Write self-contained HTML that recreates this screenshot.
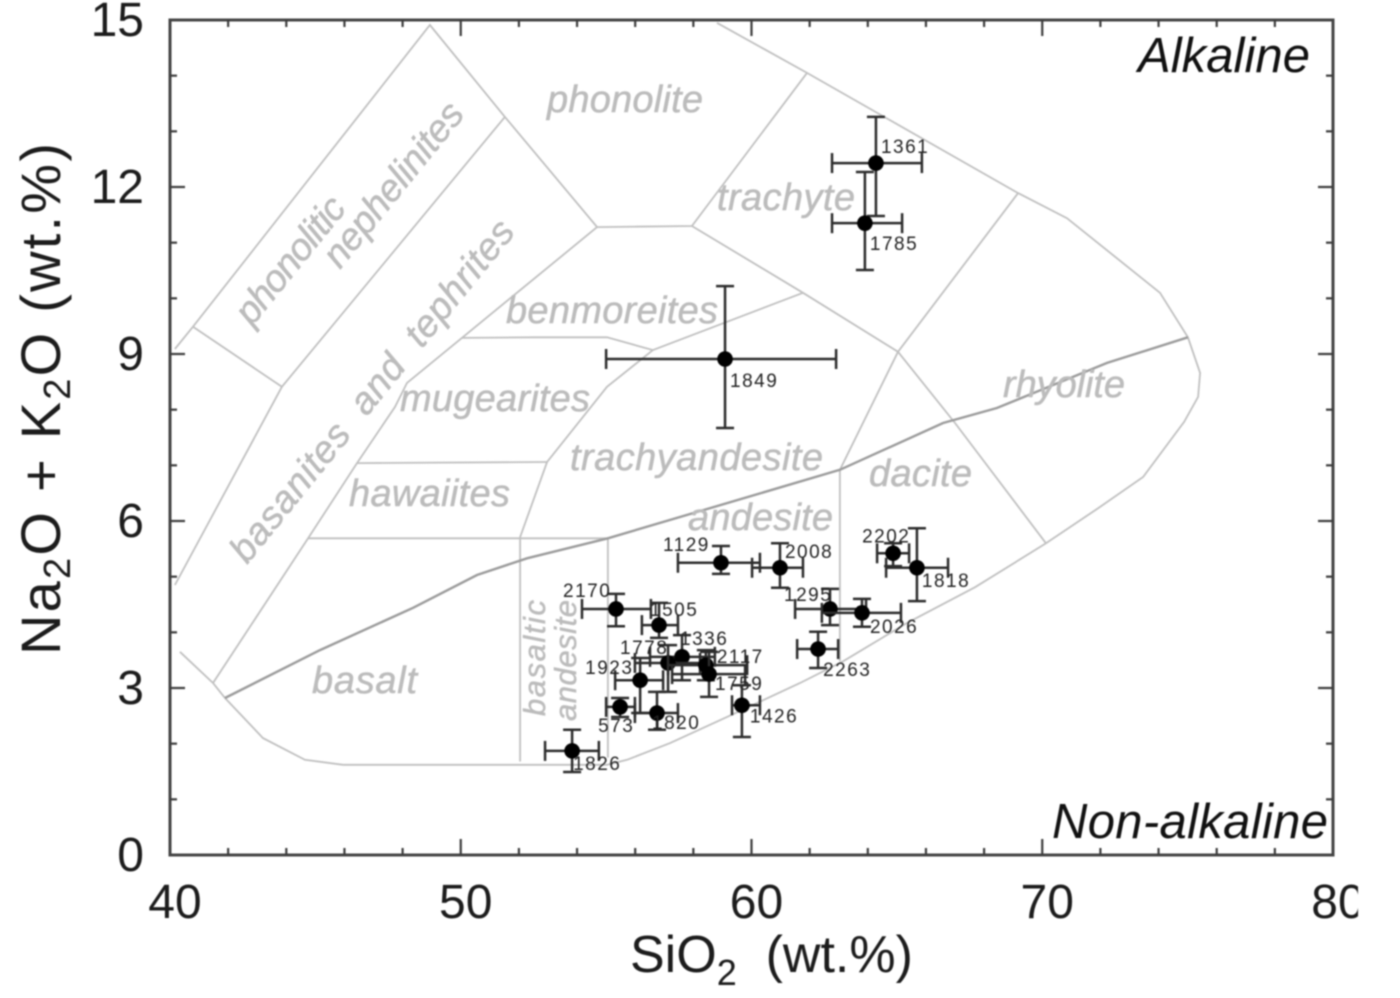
<!DOCTYPE html>
<html lang="en">
<head>
<meta charset="utf-8">
<title>TAS diagram</title>
<style>
html,body{margin:0;padding:0;background:#fff;width:1400px;height:998px;overflow:hidden}
svg{display:block;filter:blur(0.9px)}
text{font-family:"Liberation Sans",Arial,sans-serif}
.tick-label{font-size:48px;fill:#1c1c1c}
.axis-title{font-size:52px;fill:#1c1c1c}
.zone{font-size:38px;font-style:italic;fill:#bcbcbc;stroke:#bcbcbc;stroke-width:.5}
.corner{font-size:49px;font-style:italic;fill:#111}
.sample-label{font-size:19px;fill:#222;letter-spacing:1.5px}
</style>
</head>
<body>
<svg id="chart" xmlns="http://www.w3.org/2000/svg" width="1400" height="998" viewBox="0 0 1400 998">
<defs><clipPath id="page-clip"><rect x="0" y="0" width="1358" height="998"/></clipPath></defs>
<g id="boundaries"></g>
<g>
<text class="zone" x="547" y="112" textLength="156">phonolite</text>
<text class="zone" x="717" y="210" textLength="138">trachyte</text>
<text class="zone" x="506" y="323" textLength="212">benmoreites</text>
<text class="zone" x="400" y="411" textLength="190">mugearites</text>
<text class="zone" x="349" y="506" textLength="161">hawaiites</text>
<text class="zone" x="570" y="470" textLength="253">trachyandesite</text>
<text class="zone" x="688" y="530" textLength="145">andesite</text>
<text class="zone" x="869" y="486" textLength="103">dacite</text>
<text class="zone" x="1003" y="397" textLength="122">rhyolite</text>
<text class="zone" x="312" y="693" textLength="105">basalt</text>
<text class="zone" transform="translate(252,327) rotate(-51)" textLength="152">phonolitic</text>
<text class="zone" transform="translate(340,270) rotate(-51)" textLength="200">nephelinites</text>
<text class="zone" transform="translate(247,565) rotate(-51)" textLength="428">basanites&#160;&#160;and&#160;&#160;tephrites</text>
<text class="zone" style="font-size:31px" transform="translate(545,716) rotate(-90)" textLength="116">basaltic</text>
<text class="zone" style="font-size:31px" transform="translate(576,721) rotate(-90)" textLength="121">andesite</text>
</g>
<g id="series"></g>
<rect x="170" y="20" width="1163" height="835" fill="none" stroke="#444" stroke-width="3"/>
<g id="ticks"></g>
<g id="tick-labels" clip-path="url(#page-clip)"></g>
<text class="corner" x="1138" y="72" textLength="172">Alkaline</text>
<text class="corner" x="1052" y="838" textLength="276">Non-alkaline</text>
<text class="axis-title" style="font-size:56px" text-anchor="middle" transform="translate(60,399) rotate(-90)" textLength="512">Na<tspan font-size="38" dy="10">2</tspan><tspan dy="-10">O + K</tspan><tspan font-size="38" dy="10">2</tspan><tspan dy="-10">O (wt.%)</tspan></text>
<text class="axis-title" x="630" y="972">SiO<tspan font-size="36" dy="13">2</tspan><tspan dy="-13">&#160;&#160;(wt.%)</tspan></text>
</svg>
<script>
const xTicks = [40, 50, 60, 70, 80];
const yTicks = [0, 3, 6, 9, 12, 15];
const xMinorStep = 2;
const yMinorStep = 1;

const sampleIds = ['1361','1785','1849','1129','2008','2170','1505','1336','1778','1923','2117','1759','573','1820','1426','1826','2202','1818','1295','2026','2263'];
const sio2Values = [64.28,63.90,59.09,58.95,60.98,55.34,56.82,57.61,57.13,56.17,58.43,58.54,55.48,56.75,59.67,53.83,64.87,65.69,62.70,63.80,62.29];
const totalValues = [12.43,11.35,8.91,5.25,5.16,4.42,4.13,3.56,3.45,3.14,3.41,3.25,2.66,2.55,2.69,1.87,5.42,5.16,4.42,4.35,3.70];
const sio2Low = [62.77,62.77,55.00,57.47,60.02,54.17,56.23,56.51,55.99,55.31,57.13,57.27,55.00,55.99,59.33,52.90,64.32,64.63,61.50,62.42,61.57];
const sio2High = [65.86,65.18,62.91,60.29,61.77,56.54,57.47,58.74,58.23,56.96,59.85,59.78,55.99,57.47,60.29,54.75,65.42,66.76,63.94,65.14,62.98];
const totalLow = [11.48,10.51,7.67,5.05,4.80,4.11,3.90,3.14,2.93,2.55,3.14,2.84,2.48,2.25,2.12,1.49,5.19,4.56,4.13,4.10,3.36];
const totalHigh = [13.26,12.27,10.22,5.55,5.60,4.69,4.53,3.95,3.77,3.54,3.68,3.65,2.82,2.93,3.05,2.25,5.60,5.87,4.78,4.60,4.01];

const labelOffsetX = [5,5,5,-58,5,-53,-9,-2,-48,-55,11,6,-22,-5,8,1,-31,5,-46,8,5];
const labelOffsetY = [-10,27,28,-12,-10,-12,-9,-12,-9,-6,-2,16,25,16,17,19,-11,19,-8,20,27];

const alkalineDivide = [[41.89,2.82],[45.16,3.68],[48.36,4.44],[50.56,5.03],[52.28,5.33],[55.06,5.69],[63.04,6.92],[66.59,7.76],[68.44,8.03],[72.23,8.84],[75.01,9.30]];
const outerEnvelope = [[58.81,14.95],[61.91,14.05],[69.17,11.89],[70.85,11.44],[74.05,10.10],[75.01,9.30],[75.43,8.66],[75.36,8.23],[74.88,7.78],[73.47,6.79],[71.92,6.23],[70.13,5.60],[67.69,4.81],[65.35,4.17],[63.15,3.48],[61.67,3.09],[59.16,2.48],[57.20,2.01],[55.72,1.71],[55.03,1.62],[52.10,1.62],[45.95,1.62],[44.64,1.71],[43.20,2.10],[41.89,2.82],[41.48,3.09],[40.34,3.65]];
const phonoliticOuter = [[40.17,9.09],[40.79,9.49],[48.94,14.91],[51.52,13.26],[54.69,11.28],[57.95,11.30],[61.91,14.05]];
const phonoliticBase = [[40.79,9.49],[43.85,8.41]];
const nephelinitesBase = [[51.52,13.26],[43.85,8.41],[40.17,4.85]];
const tephriteEdge = [[54.69,11.28],[50.04,9.29],[48.15,8.48],[47.74,8.05],[46.43,7.04],[44.75,5.69],[41.48,3.09]];
const benmoreiteBase = [[50.04,9.29],[52.48,9.30],[55.03,9.30],[56.61,9.07],[61.77,10.10]];
const trachyteBase = [[57.95,11.30],[61.77,10.10],[65.04,9.04],[69.17,11.89]];
const trachyandesiteLeft = [[56.61,9.07],[55.03,8.41],[52.97,7.06],[52.04,5.71],[52.04,1.68]];
const hawaiiteTop = [[46.43,7.04],[52.97,7.06]];
const hawaiiteBase = [[44.75,5.69],[55.06,5.69],[55.06,1.75]];
const daciteEdge = [[65.04,9.04],[63.04,6.92],[63.04,3.48]];
const rhyoliteEdge = [[65.04,9.04],[67.00,7.76],[70.13,5.60]];
const boundaryLines = [outerEnvelope, phonoliticOuter, phonoliticBase, nephelinitesBase, tephriteEdge, benmoreiteBase, trachyteBase, trachyandesiteLeft, hawaiiteTop, hawaiiteBase, daciteEdge, rhyoliteEdge];

const NS = 'http://www.w3.org/2000/svg';
const frame = {left:170, right:1333, top:20, bottom:855};
function sx(v){ return frame.left + (v - 40) * (frame.right - frame.left) / 40; }
function sy(v){ return frame.bottom - v * (frame.bottom - frame.top) / 15; }
function make(tag, parent){ const el = document.createElementNS(NS, tag); parent.appendChild(el); return el; }
function seg(parent, x1, y1, x2, y2, color, width){
  const el = make('line', parent);
  el.setAttribute('x1', x1); el.setAttribute('y1', y1);
  el.setAttribute('x2', x2); el.setAttribute('y2', y2);
  el.setAttribute('stroke', color); el.setAttribute('stroke-width', width);
  return el;
}
function toPoints(arr){ return arr.map(function(p){ return sx(p[0]).toFixed(1) + ',' + sy(p[1]).toFixed(1); }).join(' '); }

const bGroup = document.getElementById('boundaries');
boundaryLines.forEach(function(line){
  const el = make('polyline', bGroup);
  
  
  el.setAttribute('points', toPoints(line));
  el.setAttribute('fill', 'none');
  el.setAttribute('stroke', '#c0c0c0');
  el.setAttribute('stroke-width', '1.8');
});
const alkLine = make('polyline', bGroup);


alkLine.setAttribute('points', toPoints(alkalineDivide));
alkLine.setAttribute('fill', 'none');
alkLine.setAttribute('stroke', '#9c9c9c');
alkLine.setAttribute('stroke-width', '2.4');

const series = document.getElementById('series');
sampleIds.forEach(function(id, i){
  const g = make('g', series);
  
  
  const cx = sx(sio2Values[i]), cy = sy(totalValues[i]);
  const xl = sx(sio2Low[i]), xr = sx(sio2High[i]), yt = sy(totalHigh[i]), yb = sy(totalLow[i]);
  const capX = 10, capY = 9;
  const color = '#2c2c2c';
  seg(g, xl, cy, xr, cy, color, 2.5);
  seg(g, cx, yt, cx, yb, color, 2.5);
  seg(g, xl, cy - capX, xl, cy + capX, color, 2.5);
  seg(g, xr, cy - capX, xr, cy + capX, color, 2.5);
  seg(g, cx - capY, yt, cx + capY, yt, color, 2.5);
  seg(g, cx - capY, yb, cx + capY, yb, color, 2.5);
  const dot = make('circle', g);
  
  
  dot.setAttribute('cx', cx);
  dot.setAttribute('cy', cy);
  dot.setAttribute('r', 7.8);
  dot.setAttribute('fill', '#000');
  const t = make('text', g);
  
  
  t.setAttribute('class', 'sample-label');
  t.setAttribute('x', cx + labelOffsetX[i]);
  t.setAttribute('y', cy + labelOffsetY[i]);
  t.textContent = id;
});

const tGroup = document.getElementById('ticks');
const tickColor = '#3c3c3c';
for (let v = 40; v <= 80; v += xMinorStep) {
  const major = xTicks.indexOf(v) >= 0;
  const len = major ? 16 : 7;
  if (v === 40 || v === 80) continue;
  const a = seg(tGroup, sx(v), frame.bottom, sx(v), frame.bottom - len, tickColor, 2.2);
  
  
  const b = seg(tGroup, sx(v), frame.top, sx(v), frame.top + len, tickColor, 2.2);
  
  
}
for (let v = 0; v <= 15; v += yMinorStep) {
  const major = yTicks.indexOf(v) >= 0;
  const len = major ? 15 : 7;
  if (v === 0 || v === 15) continue;
  const a = seg(tGroup, frame.left, sy(v), frame.left + len, sy(v), tickColor, 2.2);
  
  
  const b = seg(tGroup, frame.right, sy(v), frame.right - len, sy(v), tickColor, 2.2);
  
  
}

const lGroup = document.getElementById('tick-labels');
xTicks.forEach(function(v){
  const t = make('text', lGroup);
  
  
  t.setAttribute('class', 'tick-label');
  t.setAttribute('text-anchor', 'middle');
  t.setAttribute('x', sx(v) + 5);
  t.setAttribute('y', 918);
  t.textContent = v;
});
yTicks.forEach(function(v){
  const t = make('text', lGroup);
  
  
  t.setAttribute('class', 'tick-label');
  t.setAttribute('text-anchor', 'end');
  t.setAttribute('x', 144);
  t.setAttribute('y', sy(v) + 16);
  t.textContent = v;
});
</script>
</body>
</html>
